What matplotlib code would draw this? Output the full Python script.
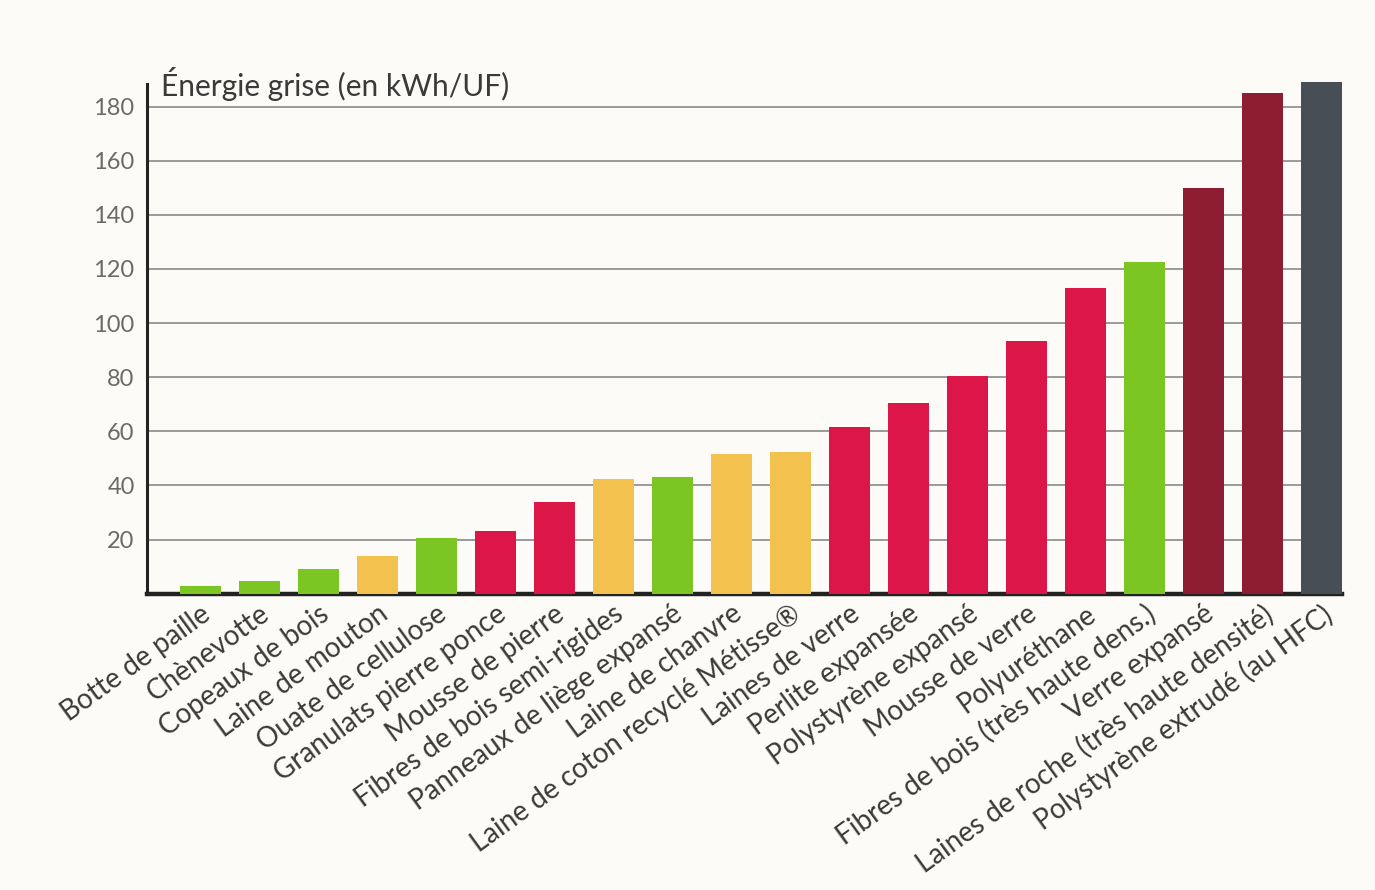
import matplotlib
matplotlib.use("Agg")
import matplotlib.pyplot as plt

# Energie grise des isolants (kWh/UF)
materiaux = [
    "Botte de paille", "Chènevotte", "Copeaux de bois", "Laine de mouton",
    "Ouate de cellulose", "Granulats pierre ponce", "Mousse de pierre",
    "Fibres de bois semi-rigides", "Panneaux de liège expansé",
    "Laine de chanvre", "Laine de coton recyclé Métisse®", "Laines de verre",
    "Perlite expansée", "Polystyrène expansé", "Mousse de verre",
    "Polyuréthane", "Fibres de bois (très haute dens.)", "Verre expansé",
    "Laines de roche (très haute densité)", "Polystyrène extrudé (au HFC)",
]
energie = [3, 4.5, 9, 14, 20.5, 23, 34, 42.5, 43, 51.5,
           52.5, 61.5, 70.5, 80.5, 93.5, 113, 122.5, 150, 185, 189]
groupe = ["vert", "vert", "vert", "jaune", "vert", "rouge", "rouge",
          "jaune", "vert", "jaune", "jaune", "rouge", "rouge", "rouge",
          "rouge", "rouge", "vert", "bordeaux", "bordeaux", "gris"]
yticks = [20, 40, 60, 80, 100, 120, 140, 160, 180]

couleurs = {
    "vert": "#7cc623",
    "jaune": "#f3c14e",
    "rouge": "#dc1648",
    "bordeaux": "#8e1d31",
    "gris": "#484e55",
}

plt.rcParams["font.family"] = ["Lato", "DejaVu Sans"]

fig = plt.figure(figsize=(13.75, 8.9), dpi=100)
fig.patch.set_facecolor("#fcfbf7")
ax = fig.add_axes([0.107, 0.333, 0.869, 0.573])
ax.set_facecolor("#fcfbf7")

x = list(range(len(materiaux)))
ax.bar(x, energie, width=0.7, color=[couleurs[g] for g in groupe],
       zorder=3, clip_on=False)

ax.set_xlim(-0.9, 19.35)
ax.set_ylim(0, 188.5)
ax.set_yticks(yticks)
ax.set_yticklabels([str(v) for v in yticks], fontsize=17, color="#6a6a6a")
ax.tick_params(axis="y", length=0, pad=9)
ax.yaxis.grid(True, color="#9a9a9a", linewidth=1.4, zorder=0)

ax.set_xticks(x)
ax.set_xticklabels(materiaux, rotation=36, ha="right", va="top",
                   rotation_mode="anchor", fontsize=20, color="#3a3a3a")
ax.tick_params(axis="x", length=0, pad=5)

for s in ["top", "right"]:
    ax.spines[s].set_visible(False)
ax.spines["left"].set_linewidth(2.2)
ax.spines["bottom"].set_linewidth(3.2)
ax.spines["left"].set_color("#222222")
ax.spines["bottom"].set_color("#222222")

ax.text(0.012, 1.0, "Énergie grise (en kWh/UF)", transform=ax.transAxes,
        fontsize=21.5, color="#3a3a3a", ha="left", va="center")

fig.savefig("out.png", dpi=100, facecolor=fig.get_facecolor())
